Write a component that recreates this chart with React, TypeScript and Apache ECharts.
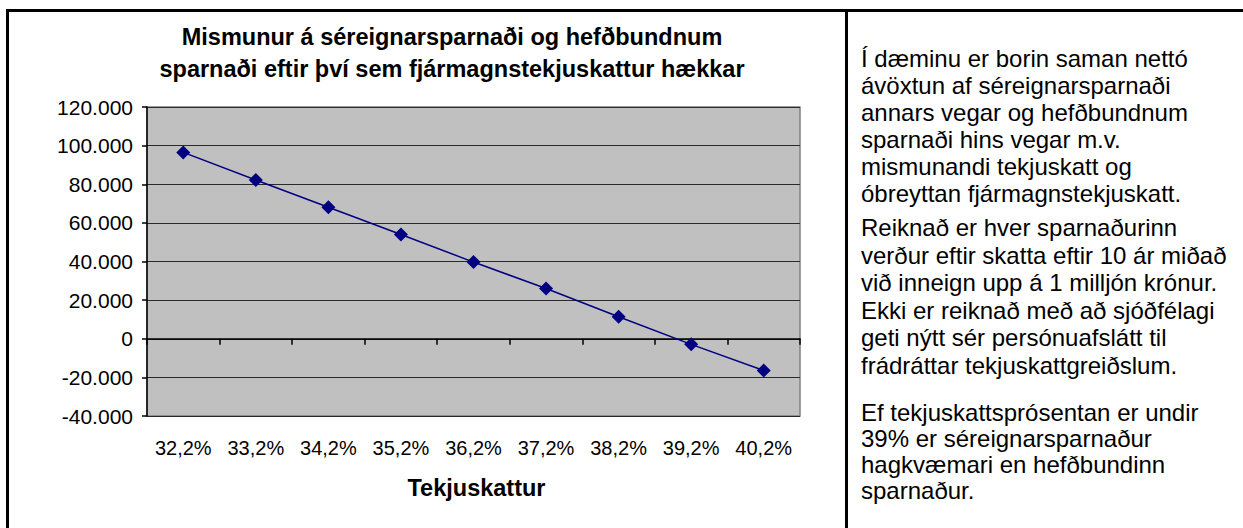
import React, { useEffect, useRef } from "react";
import * as echarts from "echarts";

const titleLines = [
  "Mismunur á séreignarsparnaði og hefðbundnum",
  "sparnaði eftir því sem fjármagnstekjuskattur hækkar",
];
const categories = ["32,2%", "33,2%", "34,2%", "35,2%", "36,2%", "37,2%", "38,2%", "39,2%", "40,2%"];
const differenceValues = [96500, 82200, 68100, 54000, 39700, 26000, 11400, -2900, -16400];
const xAxisName = "Tekjuskattur";
const yMin = -40000;
const yMax = 120000;
const yStep = 20000;

const noteParagraph1 = [
  "Í dæminu er borin saman nettó",
  "ávöxtun af séreignarsparnaði",
  "annars vegar og hefðbundnum",
  "sparnaði hins vegar m.v.",
  "mismunandi tekjuskatt og",
  "óbreyttan fjármagnstekjuskatt.",
];
const noteParagraph2 = [
  "Reiknað er hver sparnaðurinn",
  "verður eftir skatta eftir 10 ár miðað",
  "við inneign upp á 1 milljón krónur.",
  "Ekki er reiknað með að sjóðfélagi",
  "geti nýtt sér persónuafslátt til",
  "frádráttar tekjuskattgreiðslum.",
];
const noteParagraph3 = [
  "Ef tekjuskattsprósentan er undir",
  "39% er séreignarsparnaður",
  "hagkvæmari en hefðbundinn",
  "sparnaður.",
];

const FONT = "Liberation Sans";

function formatThousands(v: number): string {
  if (v === 0) return "0";
  const s = Math.abs(v).toString().replace(/\B(?=(\d{3})+(?!\d))/g, ".");
  return (v < 0 ? "-" : "") + s;
}

export default function App() {
  const ref = useRef<HTMLDivElement>(null);

  useEffect(() => {
    if (!ref.current) return;
    const chart = echarts.init(ref.current, null, { renderer: "svg" });

    const noteText = (lines: string[], top: number, lh: number) => ({
      type: "text",
      x: 861,
      y: top,
      style: {
        text: lines.join("\n"),
        fontSize: 24,
        fontFamily: FONT,
        lineHeight: lh,
        fill: "#000",
        align: "left",
        verticalAlign: "top",
      },
    });

    chart.setOption({
      animation: false,
      backgroundColor: "#fff",
      title: {
        text: titleLines.join("\n"),
        left: 452,
        top: 21,
        textAlign: "center",
        padding: 0,
        textStyle: {
          fontFamily: FONT,
          fontSize: 23.5,
          fontWeight: "bold",
          lineHeight: 32,
          color: "#000",
        },
      },
      grid: {
        left: 147,
        top: 107,
        width: 653,
        height: 309,
        show: true,
        backgroundColor: "#C0C0C0",
        borderColor: "#808080",
        borderWidth: 1.5,
        containLabel: false,
      },
      xAxis: [
        {
          type: "category",
          data: categories,
          boundaryGap: true,
          position: "bottom",
          axisLine: { show: false, onZero: false },
          axisTick: { show: false },
          splitLine: { show: false },
          axisLabel: {
            interval: 0,
            color: "#000",
            fontFamily: FONT,
            fontSize: 20,
            margin: 22,
          },
          name: xAxisName,
          nameLocation: "middle",
          nameGap: 60,
          nameTextStyle: {
            color: "#000",
            fontFamily: FONT,
            fontSize: 23.5,
            fontWeight: "bold",
            padding: [0, 0, 0, 6],
          },
        },
        {
          type: "category",
          data: categories,
          boundaryGap: true,
          position: "bottom",
          axisLine: { show: true, onZero: true, lineStyle: { color: "#000", width: 1.5 } },
          axisTick: { show: true, interval: 0, length: 6, inside: false, lineStyle: { color: "#000", width: 1.5 } },
          axisLabel: { show: false, interval: 0 },
          splitLine: { show: false },
        },
      ],
      yAxis: {
        type: "value",
        min: yMin,
        max: yMax,
        interval: yStep,
        axisLine: { show: true, lineStyle: { color: "#000", width: 1.5 } },
        axisTick: { show: true, length: 5, inside: false, lineStyle: { color: "#000", width: 1.5 } },
        splitLine: { show: true, lineStyle: { color: "#2a2a2a", width: 1.2 } },
        axisLabel: {
          color: "#000",
          fontFamily: FONT,
          fontSize: 21,
          margin: 14,
          formatter: (v: number) => formatThousands(v),
        },
      },
      series: [
        {
          type: "line",
          xAxisIndex: 0,
          data: differenceValues,
          symbol: "diamond",
          symbolSize: 14,
          itemStyle: { color: "#000080" },
          lineStyle: { color: "#000080", width: 1.5 },
          z: 5,
        },
      ],
      graphic: [
        { type: "rect", shape: { x: 6, y: 9, width: 1240, height: 3 }, style: { fill: "#000" }, silent: true },
        { type: "rect", shape: { x: 6, y: 9, width: 3, height: 525 }, style: { fill: "#000" }, silent: true },
        { type: "rect", shape: { x: 845, y: 9, width: 3, height: 525 }, style: { fill: "#000" }, silent: true },
        noteText(noteParagraph1, 45, 27),
        noteText(noteParagraph2, 214, 27.5),
        noteText(noteParagraph3, 399, 26),
      ],
    });

    return () => chart.dispose();
  }, []);

  return (
    <div
      ref={ref}
      style={{ position: "fixed", left: 0, top: 0, width: 1243, height: 528 }}
    />
  );
}
